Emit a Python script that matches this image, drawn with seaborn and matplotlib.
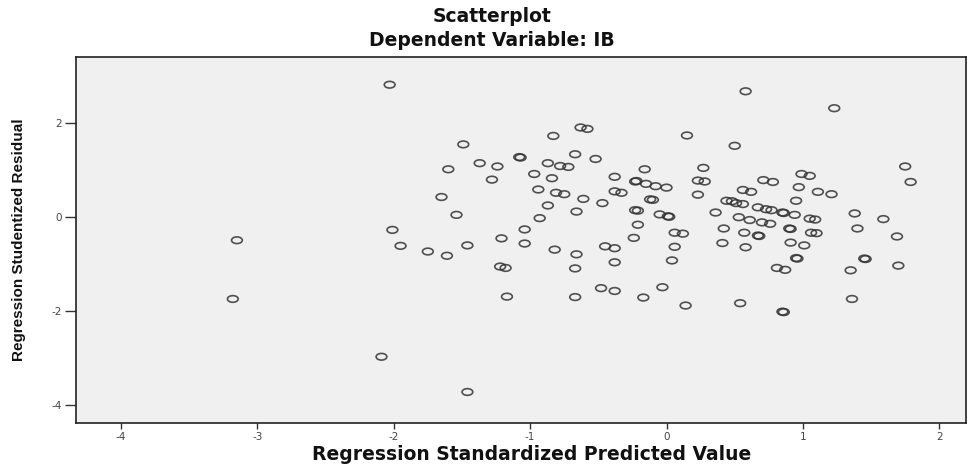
import numpy as np
import matplotlib
matplotlib.use("Agg")
import matplotlib.pyplot as plt
from matplotlib.path import Path
import pandas as pd
import seaborn as sns

# Regression Standardized Predicted Value
pred = [-3.15, -3.18, -2.09, -1.46, -2.03, -2.01, -1.95, -1.75, -1.61, -1.46,
        -1.49, -1.60, -1.65, -1.54, -1.37, -1.24, -1.08, -1.07, -1.28, -1.22,
        -1.18, -1.17, -1.21, -1.04, -1.04, -0.93, -0.83, -0.63, -0.58, -0.67,
        -0.52, -0.87, -0.78, -0.72, -0.97, -0.84, -0.94, -0.81, -0.75, -0.61,
        -0.47, -0.87, -0.66, -0.82, -0.66, -0.67, -0.67, -0.48, -0.45, -0.38,
        -0.38, -0.38, -0.17, -0.38, -0.23, -0.22, -0.16, -0.15, -0.38, -0.33,
        -0.12, -0.10, -0.23, -0.21, -0.21, -0.24, -0.08, 0.00, -0.05, 0.02,
        0.01, 0.06, 0.12, 0.06, 0.04, -0.03, 0.14, 0.15, 0.50, 0.58,
        1.23, 0.27, 0.23, 0.28, 0.23, 0.36, 0.42, 0.41, 0.44, 0.48,
        0.51, 0.56, 0.53, 0.61, 0.70, 0.76, 0.57, 0.67, 0.68, 0.58,
        0.56, 0.62, 0.71, 0.78, 0.67, 0.73, 0.77, 0.85, 0.86, 0.94,
        0.90, 0.91, 0.91, 1.01, 0.95, 0.96, 0.81, 0.87, 0.54, 0.85,
        0.86, 0.99, 1.05, 0.97, 0.95, 1.05, 1.09, 1.06, 1.10, 1.11,
        1.21, 1.38, 1.40, 1.59, 1.69, 1.75, 1.79, 1.35, 1.45, 1.46,
        1.70, 1.36]

# Regression Studentized Residual
resid = [-0.49, -1.74, -2.97, -3.72, 2.82, -0.27, -0.61, -0.73, -0.82, -0.60,
         1.55, 1.02, 0.43, 0.05, 1.15, 1.08, 1.28, 1.27, 0.80, -1.05,
         -1.08, -1.69, -0.45, -0.26, -0.56, -0.02, 1.73, 1.91, 1.88, 1.34,
         1.24, 1.15, 1.09, 1.07, 0.92, 0.83, 0.59, 0.52, 0.49, 0.39,
         0.30, 0.25, 0.12, -0.69, -0.79, -1.09, -1.70, -1.51, -0.62, -0.66,
         -0.96, -1.57, -1.71, 0.86, 0.76, 0.77, 1.02, 0.71, 0.55, 0.52,
         0.38, 0.37, 0.15, 0.14, -0.16, -0.44, 0.66, 0.63, 0.06, 0.01,
         0.02, -0.33, -0.35, -0.63, -0.92, -1.49, -1.88, 1.74, 1.52, 2.68,
         2.32, 1.05, 0.78, 0.76, 0.48, 0.10, -0.24, -0.55, 0.35, 0.34,
         0.30, 0.28, 0.00, -0.06, -0.11, -0.14, -0.33, -0.39, -0.40, -0.64,
         0.58, 0.54, 0.79, 0.75, 0.21, 0.17, 0.15, 0.10, 0.09, 0.05,
         -0.24, -0.25, -0.54, -0.60, -0.87, -0.88, -1.08, -1.12, -1.83, -2.01,
         -2.02, 0.92, 0.88, 0.64, 0.35, -0.03, -0.05, -0.33, -0.34, 0.54,
         0.49, 0.08, -0.24, -0.04, -0.41, 1.08, 0.75, -1.13, -0.88, -0.89,
         -1.03, -1.74]

x_ticks = [-4, -3, -2, -1, 0, 1, 2]
y_ticks = [-4, -2, 0, 2]

df = pd.DataFrame({"pred": pred, "resid": resid})

sns.set_style("ticks")
plt.rcParams["font.family"] = ["DejaVu Sans"]
plt.rcParams["axes.unicode_minus"] = False

fig = plt.figure(figsize=(9.74, 4.70), dpi=100)
ax = fig.add_axes([76 / 974, 1 - 423 / 470, (966 - 76) / 974, (423 - 57) / 470])
ax.set_facecolor("#F0F0F0")

# the original export is stretched sideways, so the circles look flat
circ = Path.unit_circle()
ellipse = Path(circ.vertices * np.array([1.0, 0.62]), circ.codes)

sns.scatterplot(data=df, x="pred", y="resid", ax=ax, marker=ellipse, s=60,
                fc="none", ec="#333333", linewidth=1.2, alpha=0.85)

ax.set_xlim(-4.33, 2.196)
ax.set_ylim(-4.38, 3.41)
ax.set_xticks(x_ticks)
ax.set_yticks(y_ticks)
ax.tick_params(direction="out", width=1, color="#333333",
               labelcolor="#444444", labelsize=7.5)
ax.tick_params(axis="x", length=4.5, pad=2)
ax.tick_params(axis="y", length=8, pad=2)
for sp in ax.spines.values():
    sp.set_visible(True)
    sp.set_color("#222222")
    sp.set_linewidth(1.2)

ax.set_xlabel("")
ax.set_ylabel("")
fig.text(492 / 974, 1 - 16 / 470, "Scatterplot", ha="center", va="center",
         fontsize=13.5, fontweight="bold", color="#111111")
fig.text(492 / 974, 1 - 41 / 470, "Dependent Variable: IB", ha="center", va="center",
         fontsize=13.5, fontweight="bold", color="#111111")
fig.text(532 / 974, 1 - 454 / 470, "Regression Standardized Predicted Value",
         ha="center", va="center", fontsize=13.5, fontweight="bold", color="#111111")
fig.text(19 / 974, 1 - 240 / 470, "Regression Studentized Residual",
         ha="center", va="center", rotation=90, fontsize=11,
         fontweight="bold", color="#111111",
         family=["Liberation Sans Narrow", "Liberation Sans", "DejaVu Sans"])

fig.savefig("out.png", dpi=100, facecolor="white")
